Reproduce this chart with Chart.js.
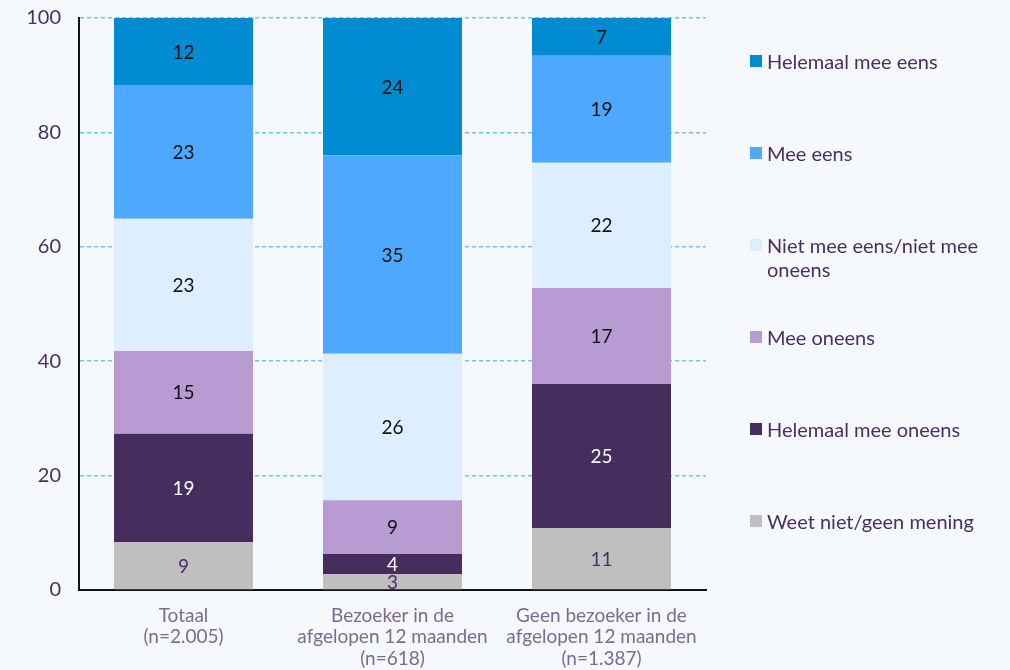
<!DOCTYPE html>
<html lang="nl">
<head>
<meta charset="UTF-8" />
<title>Stellingen — bezoekers</title>
<script src="https://cdn.jsdelivr.net/npm/chart.js"></script>
<style>
    html, body { margin: 0; padding: 0; background: #f5f8fd; }
    #wrap { position: relative; width: 1010px; height: 670px; }
    #legend { position: absolute; left: 0; top: 0; }
    .item { position: absolute; left: 750px; width: 250px; font: 20px Lato, sans-serif; color: #4a2f62; line-height: 24px; }
    .item .box { position: absolute; left: 0; top: 6px; width: 12px; height: 12px; }
    .item .txt { margin-left: 17px; width: 228px; }
</style>
</head>
<body>
<div id="wrap">
    <canvas id="chart" width="1010" height="670"></canvas>
    <div id="legend"></div>
</div>
<script>
    // categorieën (x-as)
    const categories = [
        ['Totaal', '(n=2.005)'],
        ['Bezoeker in de', 'afgelopen 12 maanden', '(n=618)'],
        ['Geen bezoeker in de', 'afgelopen 12 maanden', '(n=1.387)']
    ];

    // series, van onder naar boven gestapeld
    const seriesNames = [
        'Weet niet/geen mening',
        'Helemaal mee oneens',
        'Mee oneens',
        'Niet mee eens/niet mee oneens',
        'Mee eens',
        'Helemaal mee eens'
    ];
    const weetNiet = [8.4, 2.8, 10.8];
    const helemaalOneens = [18.9, 3.5, 25.2];
    const meeOneens = [14.5, 9.4, 16.8];
    const neutraal = [23.1, 25.6, 21.9];
    const meeEens = [23.4, 34.7, 18.7];
    const helemaalEens = [11.7, 24.0, 6.6];

    // labels zoals in de figuur
    const labelWeetNiet = [9, 3, 11];
    const labelHelemaalOneens = [19, 4, 25];
    const labelMeeOneens = [15, 9, 17];
    const labelNeutraal = [23, 26, 22];
    const labelMeeEens = [23, 35, 19];
    const labelHelemaalEens = [12, 24, 7];

    const yTicks = [0, 20, 40, 60, 80, 100];

    const colors = ['#bfbfbf', '#472d5e', '#b89bd3', '#ddeeff', '#4fa8ff', '#008bd2'];
    const labelColors = ['#4a2f62', '#ffffff', '#111111', '#111111', '#111111', '#111111'];

    const seriesData = [weetNiet, helemaalOneens, meeOneens, neutraal, meeEens, helemaalEens];
    const seriesLabels = [labelWeetNiet, labelHelemaalOneens, labelMeeOneens, labelNeutraal, labelMeeEens, labelHelemaalEens];

    const datasets = seriesNames.map((name, i) => ({
        label: name,
        data: seriesData[i],
        backgroundColor: colors[i],
        borderWidth: 0,
        categoryPercentage: 1,
        barPercentage: 0.665
    }));

    // waardes in de balken
    const valueLabels = {
        id: 'valueLabels',
        afterDatasetsDraw(chart) {
            const ctx = chart.ctx;
            ctx.save();
            ctx.font = '19px Lato, sans-serif';
            ctx.textAlign = 'center';
            ctx.textBaseline = 'middle';
            chart.data.datasets.forEach((ds, i) => {
                const meta = chart.getDatasetMeta(i);
                meta.data.forEach((bar, j) => {
                    const mid = (bar.y + bar.base) / 2;
                    ctx.fillStyle = labelColors[i];
                    ctx.fillText(String(seriesLabels[i][j]), bar.x, mid + 1);
                });
            });
            ctx.restore();
        }
    };

    new Chart(document.getElementById('chart'), {
        type: 'bar',
        data: { labels: categories, datasets: datasets },
        options: {
            responsive: false,
            animation: false,
            layout: { padding: { left: 0, right: 304, top: 18, bottom: 0 } },
            plugins: { legend: { display: false }, tooltip: { enabled: false } },
            scales: {
                x: {
                    stacked: true,
                    grid: { display: false, drawTicks: false, color: 'rgba(0,0,0,0)' },
                    border: { color: '#111111', width: 2 },
                    ticks: {
                        color: '#7b6b90',
                        font: { family: 'Lato', size: 19, lineHeight: 1.13 },
                        padding: 15,
                        maxRotation: 0
                    },
                    afterFit: s => { s.height = 80; }
                },
                y: {
                    stacked: true,
                    min: 0,
                    max: 100,
                    afterBuildTicks: s => { s.ticks = yTicks.map(v => ({ value: v })); },
                    grid: {
                        color: c => c.tick.value === 0 ? 'rgba(0,0,0,0)' : '#6cc6ff',
                        lineWidth: 1.5,
                        drawTicks: false
                    },
                    border: { color: '#111111', width: 2, dash: [4, 3] },
                    ticks: {
                        color: '#4a2f62',
                        font: { family: 'Lato', size: 20 },
                        padding: 18
                    },
                    afterFit: s => { s.width = 79; s.paddingTop = 0; s.paddingBottom = 0; }
                }
            }
        },
        plugins: [valueLabels]
    });

    // legenda rechts
    const legend = document.getElementById('legend');
    for (let k = 0; k < seriesNames.length; k++) {
        const i = seriesNames.length - 1 - k;
        const item = document.createElement('div');
        item.className = 'item';
        item.style.top = (61 + 92 * k - 12) + 'px';
        item.innerHTML = '<span class="box" style="background:' + colors[i] + '"></span><div class="txt">' + seriesNames[i] + '</div>';
        legend.appendChild(item);
    }
</script>
</body>
</html>
